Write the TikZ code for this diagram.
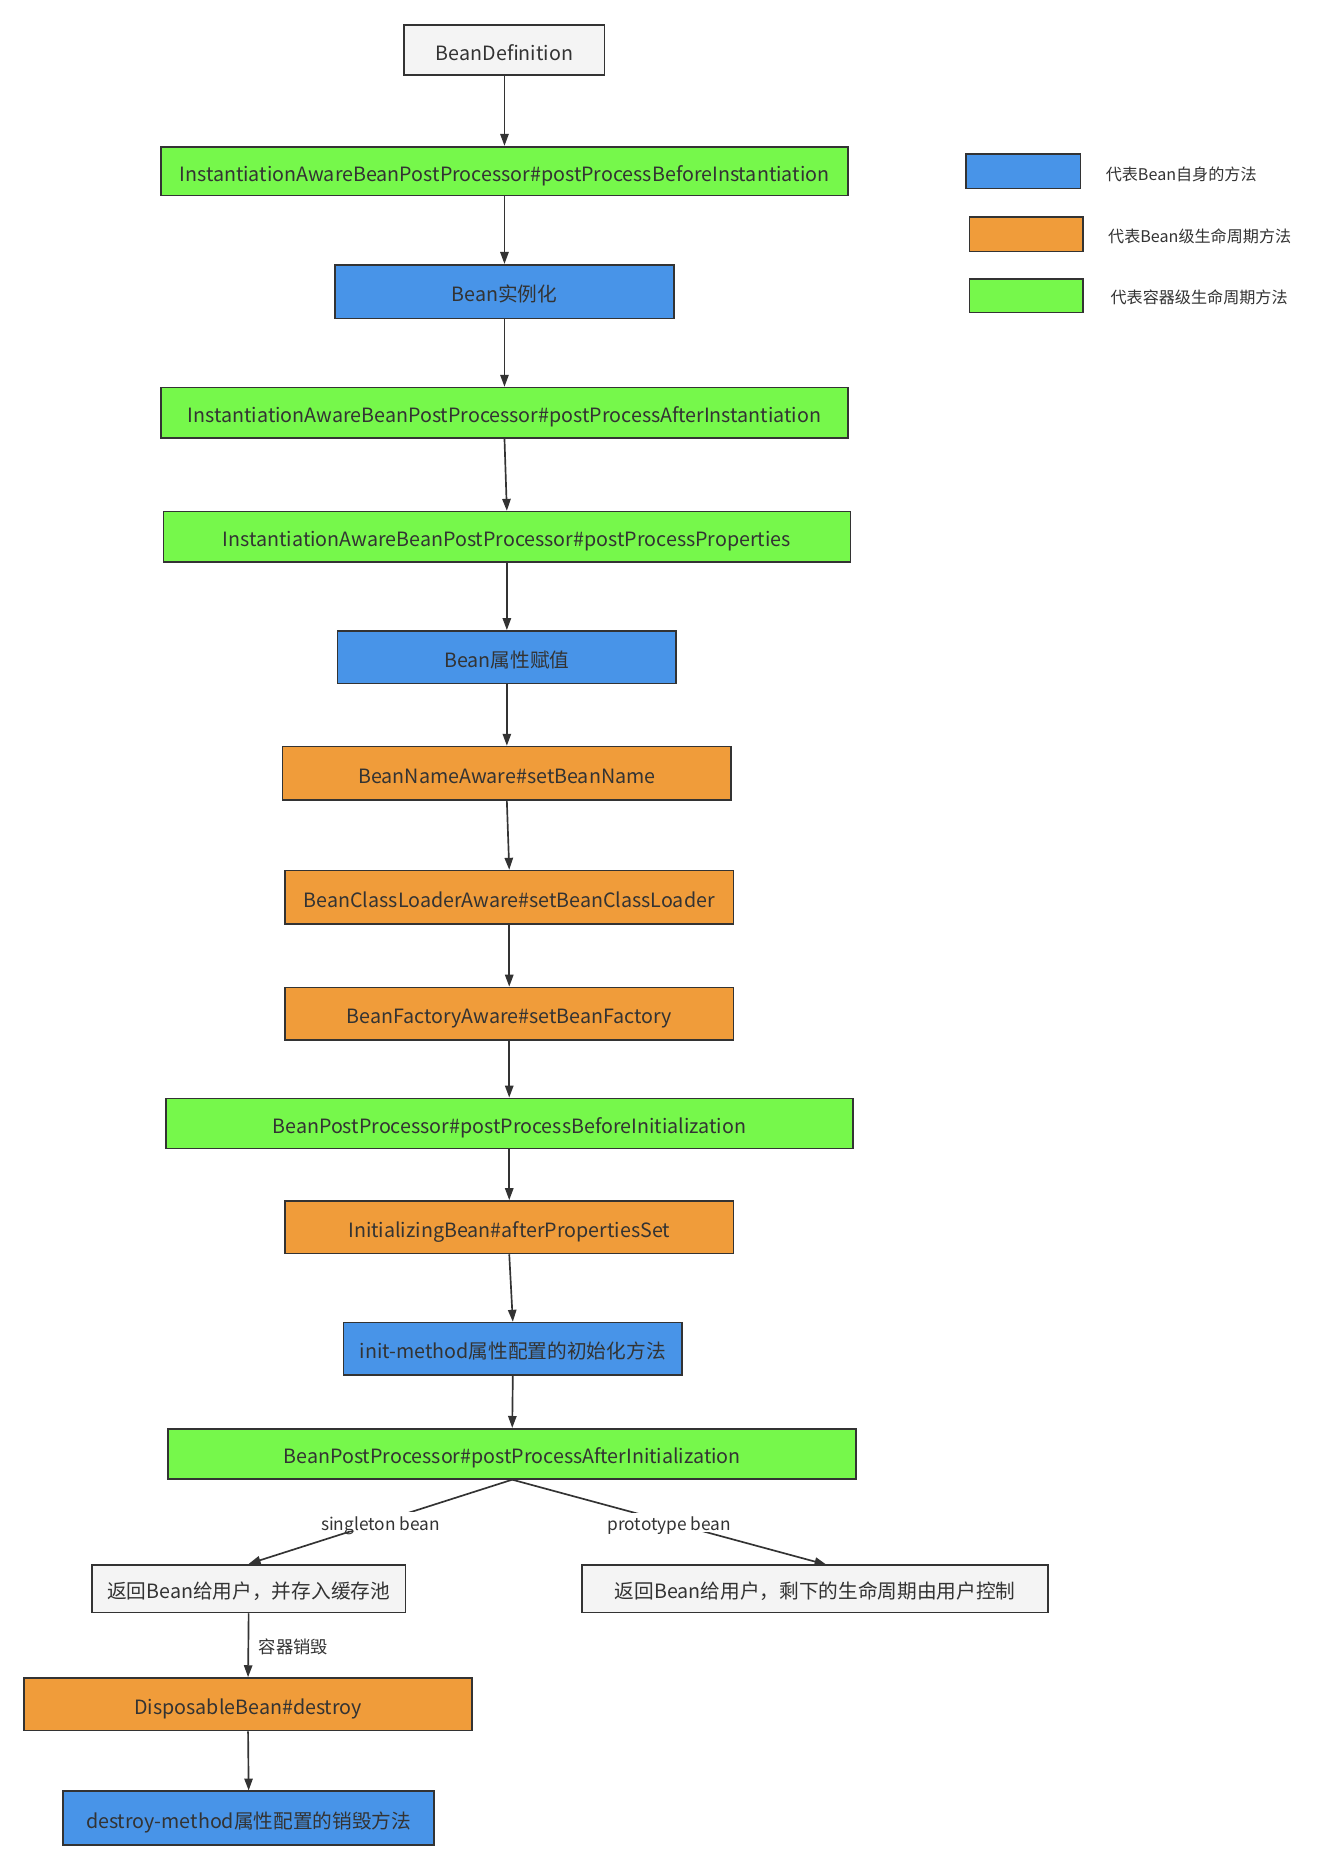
\documentclass[tikz,border=0pt]{standalone}
\usepackage{fontspec}
\setmainfont{Noto Sans CJK SC}
\usetikzlibrary{arrows.meta}
\definecolor{cgreen}{HTML}{76F84B}
\definecolor{cblue}{HTML}{4894E8}
\definecolor{corange}{HTML}{F09C3A}
\definecolor{cgray}{HTML}{F4F4F4}
\definecolor{cborder}{HTML}{333333}
\definecolor{ctext}{HTML}{333333}
\begin{document}
\begin{tikzpicture}[x=1pt,y=-1pt,
  box/.style={draw=cborder, line width=1.4pt, text=ctext, inner sep=0pt,
    text height=17pt, text depth=0pt,
    font=\fontsize{16.5}{19}\selectfont},
  gbox/.style={box, fill=cgreen},
  bbox/.style={box, fill=cblue},
  obox/.style={box, fill=corange},
  wbox/.style={box, fill=cgray},
  arr/.style={draw=cborder, line width=1.4pt, -{Triangle[length=10pt,width=7pt]}},
  elabel/.style={text=ctext, font=\fontsize{14.5}{17}\selectfont, inner sep=1pt,
    text height=14pt, text depth=0pt},
  legtext/.style={text=ctext, font=\fontsize{13.5}{16}\selectfont, inner sep=0pt, anchor=west}
]
\useasboundingbox[fill=white] (0,0) rectangle (1111,1568);

\node[wbox, minimum width=168pt, minimum height=42pt] (n1) at (423,42) {BeanDefinition};
\node[gbox, minimum width=576pt, minimum height=41pt] (n2) at (423,143.5) {InstantiationAwareBeanPostProcessor\#postProcessBeforeInstantiation};
\node[bbox, minimum width=284pt, minimum height=45pt] (n3) at (423,244.5) {Bean实例化};
\node[gbox, minimum width=576pt, minimum height=42pt] (n4) at (423,346) {InstantiationAwareBeanPostProcessor\#postProcessAfterInstantiation};
\node[gbox, minimum width=576pt, minimum height=42pt] (n5) at (425,450) {InstantiationAwareBeanPostProcessor\#postProcessProperties};
\node[bbox, minimum width=284pt, minimum height=44pt] (n6) at (425,551) {Bean属性赋值};
\node[obox, minimum width=376pt, minimum height=45pt] (n7) at (425,648.5) {BeanNameAware\#setBeanName};
\node[obox, minimum width=376pt, minimum height=45pt] (n8) at (427,752.5) {BeanClassLoaderAware\#setBeanClassLoader};
\node[obox, minimum width=376pt, minimum height=44pt] (n9) at (427,850) {BeanFactoryAware\#setBeanFactory};
\node[gbox, minimum width=576pt, minimum height=42pt] (n10) at (427,942) {BeanPostProcessor\#postProcessBeforeInitialization};
\node[obox, minimum width=376pt, minimum height=44pt] (n11) at (427,1029) {InitializingBean\#afterPropertiesSet};
\node[bbox, minimum width=284pt, minimum height=44pt] (n12) at (430,1131) {init-method属性配置的初始化方法};
\node[gbox, minimum width=577pt, minimum height=42pt] (n13) at (429.5,1219) {BeanPostProcessor\#postProcessAfterInitialization};
\node[wbox, minimum width=263pt, minimum height=40pt] (n14) at (208.5,1332) {返回Bean给用户，并存入缓存池};
\node[wbox, minimum width=391pt, minimum height=40pt] (n15) at (683.5,1332) {返回Bean给用户，剩下的生命周期由用户控制};
\node[obox, minimum width=376pt, minimum height=44pt] (n16) at (208,1429) {DisposableBean\#destroy};
\node[bbox, minimum width=311pt, minimum height=45pt] (n17) at (208.5,1524.5) {destroy-method属性配置的销毁方法};

\coordinate (p15) at (693,1312);

\draw[arr] (n1.south) -- (n2.north);
\draw[arr] (n2.south) -- (n3.north);
\draw[arr] (n3.south) -- (n4.north);
\draw[arr] (n4.south) -- (n5.north);
\draw[arr] (n5.south) -- (n6.north);
\draw[arr] (n6.south) -- (n7.north);
\draw[arr] (n7.south) -- (n8.north);
\draw[arr] (n8.south) -- (n9.north);
\draw[arr] (n9.south) -- (n10.north);
\draw[arr] (n10.south) -- (n11.north);
\draw[arr] (n11.south) -- (n12.north);
\draw[arr] (n12.south) -- (n13.north);
\draw[arr] (n13.south) -- node[elabel, fill=white] {singleton bean} (n14.north);
\draw[arr] (n13.south) -- node[elabel, fill=white] {prototype bean} (p15);
\draw[arr] (n14.south) -- node[elabel, right=7pt] {容器销毁} (n16.north);
\draw[arr] (n16.south) -- (n17.north);

% legend
\node[bbox, minimum width=96pt, minimum height=29pt] (l1) at (858,143.5) {};
\node[obox, minimum width=95pt, minimum height=29pt] (l2) at (860.5,196.5) {};
\node[gbox, minimum width=95pt, minimum height=28pt] (l3) at (860.5,248) {};
\node[legtext] (t1) at (927,146) {代表Bean自身的方法};
\node[legtext] (t2) at (929,198.5) {代表Bean级生命周期方法};
\node[legtext] (t3) at (931,249.5) {代表容器级生命周期方法};
\end{tikzpicture}
\end{document}
